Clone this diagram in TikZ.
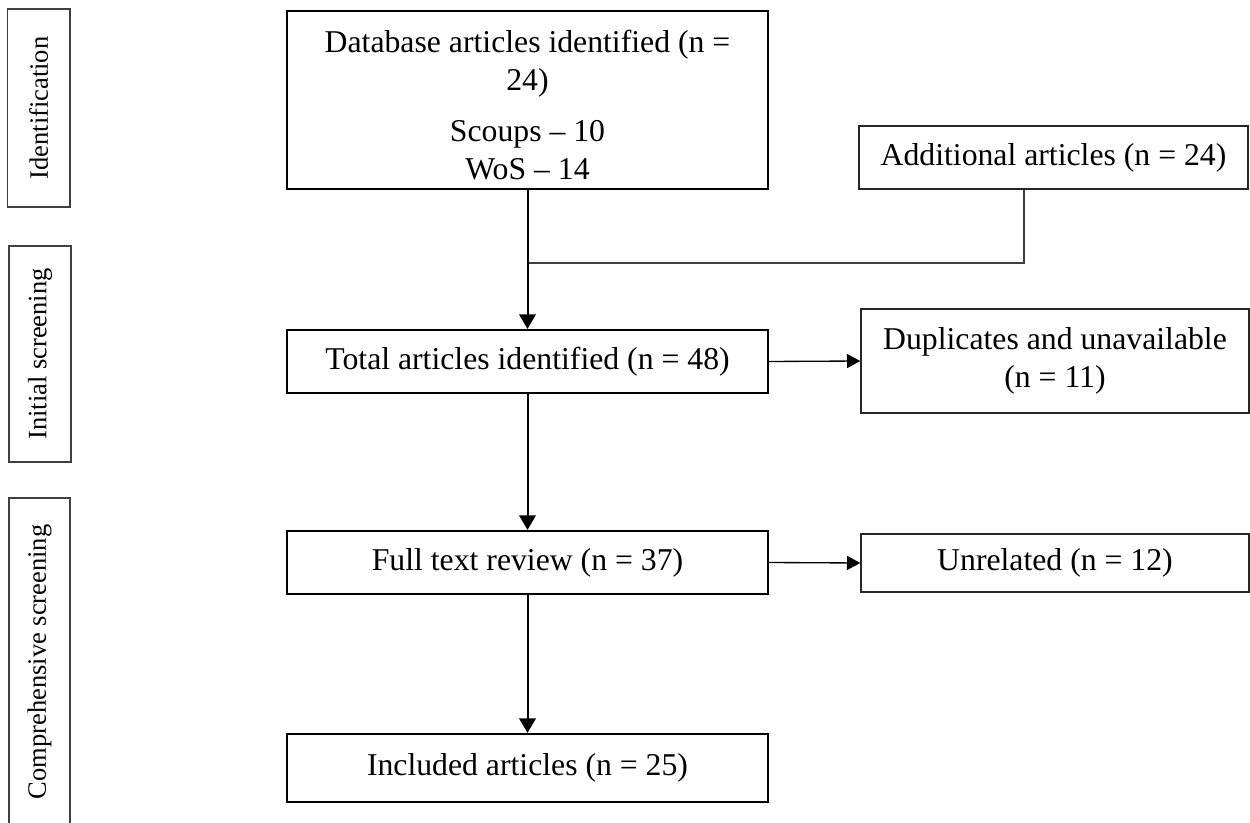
\documentclass[tikz,border=0pt]{standalone}
\usepackage{fontspec}
\setmainfont{Liberation Serif}
\usetikzlibrary{arrows.meta}
\begin{document}
\begin{tikzpicture}[x=0.75pt,y=-0.75pt,
  mainbox/.style={draw, line width=1.6pt, inner sep=0pt, minimum width=360.75pt},
  sidebox/.style={draw=black!85, line width=1pt, inner sep=0pt, minimum width=291pt},
  phasebox/.style={draw=black!75, line width=0.9pt, inner sep=0pt, rotate=90,
    font=\fontsize{19.9}{24}\selectfont},
  boxtext/.style={font=\fontsize{23.8}{28.5}\selectfont, align=center, inner sep=0pt},
  flow/.style={line width=1.5pt, -{Triangle[width=12.5pt,length=11pt]}},
  aside/.style={line width=1pt, -{Triangle[width=10.5pt,length=10pt]}},
  merge/.style={draw=black!75, line width=0.9pt},
]
\useasboundingbox (0,0) rectangle (1250,823);

% phase labels on the left
\node[phasebox, minimum width=148.5pt, minimum height=46.9pt] (phid) at (38.75,108) {Identification};
\node[phasebox, minimum width=162pt, minimum height=46.5pt] (phis) at (40,354) {Initial screening};
\node[phasebox, minimum width=246pt, minimum height=45.75pt] (phcs) at (39.5,662) {Comprehensive screening};

% main column
\node[mainbox, minimum height=133.5pt] (db) at (527.5,100) {};
\node[boxtext] (dbtext) at (527.5,105) {Database articles identified (n =\\24)\\[9.5pt]Scoups -- 10\\WoS -- 14};
\node[mainbox, minimum height=47.25pt, boxtext] (tot) at (527.5,361.5) {Total articles identified (n = 48)};
\node[mainbox, minimum height=47.25pt, boxtext] (full) at (527.5,562.5) {Full text review (n = 37)};
\node[mainbox, minimum height=51pt, boxtext] (inc) at (527.5,768) {Included articles (n = 25)};

% side column
\node[sidebox, minimum width=291.75pt, minimum height=47.25pt, boxtext] (add) at (1053.5,157.5) {Additional articles (n = 24)};
\node[sidebox, minimum height=78pt, boxtext] (dup) at (1055,361) {Duplicates and unavailable\\(n = 11)};
\node[sidebox, minimum height=43.5pt, boxtext] (unr) at (1055,563) {Unrelated (n = 12)};

% merging the additional articles into the main flow
\coordinate (jr) at (1024,263);
\draw[merge] (jr |- add.south) -- (jr) -- (db.south |- jr);

% flow arrows
\draw[flow] (db.south) -- (tot.north);
\draw[flow] (tot.south) -- (full.north);
\draw[flow] (full.south) -- (inc.north);
\draw[aside] (tot.east) -- (dup.west);
\draw[aside] (full.east) -- (unr.west);
\end{tikzpicture}
\end{document}
